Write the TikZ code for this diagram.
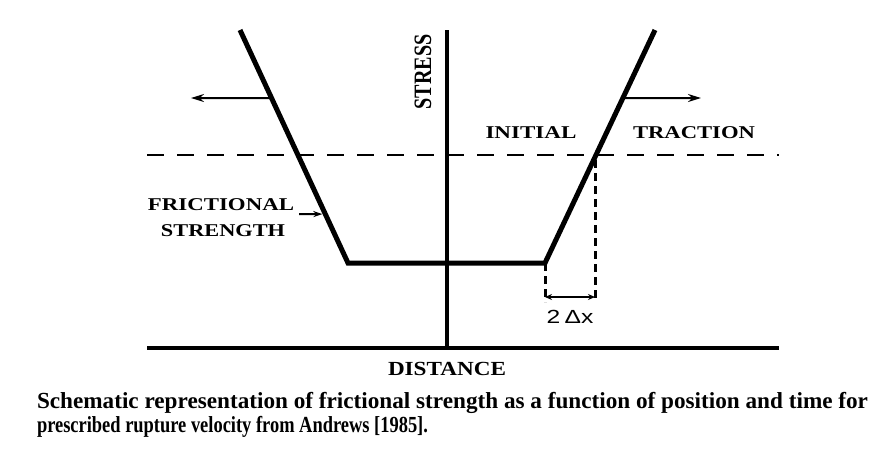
\documentclass[tikz,border=0pt]{standalone}
\usepackage{fontspec}
\setmainfont{Liberation Serif}
\newfontfamily\sansf{Liberation Sans}
\usetikzlibrary{arrows.meta,calc}
\newcommand{\fitlbl}[3]{\resizebox{#2pt}{\height}{\fontsize{#1}{#1}\selectfont\bfseries #3}}
\begin{document}
\begin{tikzpicture}[x=1pt,y=-1pt,
  curve/.style={line width=5pt,line join=miter},
  axis/.style={line width=4.5pt},
  guide/.style={line width=2pt,dash pattern=on 17pt off 13pt},
  drop/.style={line width=3pt,dash pattern=on 8pt off 5pt},
  pointer/.style={line width=2pt,-{Stealth[length=13pt,width=8pt]}},
  dim/.style={line width=2pt,{Stealth[length=7pt,width=6pt]}-{Stealth[length=7pt,width=6pt]}},
  lbl/.style={inner sep=0pt,outer sep=0pt}]
\useasboundingbox (0,0) rectangle (884,464);
% frame points
\coordinate (axtop) at (447,30);
\coordinate (axbot) at (447,348);
\coordinate (hl) at (147,348);
\coordinate (hr) at (779,348);
\coordinate (gl) at (147,155);
\coordinate (gr) at (779,155);
\coordinate (lt) at (240,30);
\coordinate (lb) at (348,263);
\coordinate (rb) at (545,263);
\coordinate (rt) at (655,30);
\coordinate (lmid) at ($(lb)!0.708!(lt)$);
\coordinate (rmid) at ($(rb)!0.708!(rt)$);
\coordinate (lfr) at ($(lb)!0.21!(lt)$);
\coordinate (la) at (191,98);
\coordinate (ra) at (701,98);
\coordinate (fs) at (299,214);
\coordinate (fe) at ($(lfr)+(-3,0)$);
\coordinate (d1b) at (545,302);
\coordinate (d2t) at (595,160);
\coordinate (d2b) at (595,302);
\coordinate (m1) at (545,297);
\coordinate (m2) at (595,297);
% axes
\draw[axis] (axtop) -- (axbot);
\draw[axis] (hl) -- (hr);
% initial traction
\draw[guide] (gl) -- (gr);
% strength curve
\draw[curve] (lt) -- (lb) -- (rb) -- (rt);
% moving arrows
\draw[pointer] (lmid) -- (la);
\draw[pointer] (rmid) -- (ra);
\draw[line width=2pt,-{Stealth[length=9pt,width=6pt]}] (fs) -- (fe);
% 2 dx
\draw[drop] (rb) -- (d1b);
\draw[drop] (d2t) -- (d2b);
\draw[dim] (m1) -- (m2);
% labels
\node[lbl,rotate=90] (stress) at (423,72) {\fitlbl{25}{75}{STRESS}};
\node[lbl] (initial) at (531,133) {\fitlbl{18}{91}{INITIAL}};
\node[lbl] (traction) at (694,133) {\fitlbl{18}{122}{TRACTION}};
\node[lbl] (fric) at (221,205) {\fitlbl{18}{146}{FRICTIONAL}};
\node[lbl] (stren) at (223,231) {\fitlbl{18}{124}{STRENGTH}};
\node[lbl] (dist) at (447,369) {\fitlbl{20}{118}{DISTANCE}};
\node[lbl] (dx) at (570,317) {\resizebox{47pt}{\height}{\fontsize{19}{19}\selectfont\sansf 2\,\,$\!$Δx}};
\node[lbl,anchor=base west] (cap1) at (37,408) {\fitlbl{23}{831}{Schematic representation of frictional strength as a function of position and time for}};
\node[lbl,anchor=base west] (cap2) at (37,432) {\fitlbl{23}{391}{prescribed rupture velocity from Andrews [1985].}};
\end{tikzpicture}
\end{document}
